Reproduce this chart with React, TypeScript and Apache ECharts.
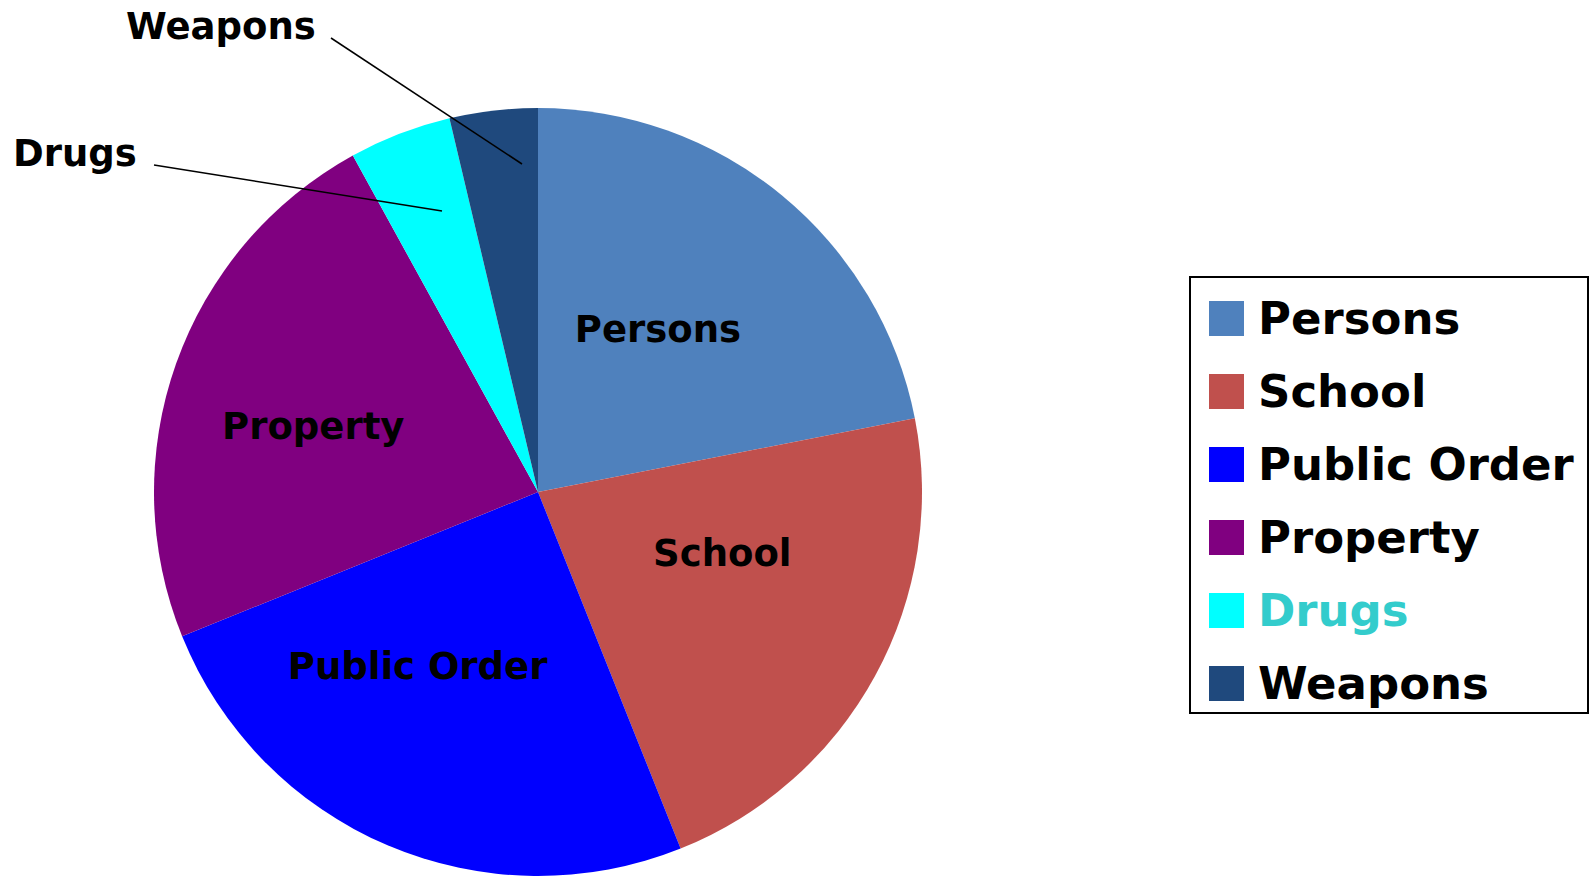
import React, { useEffect, useRef } from "react";
import * as echarts from "echarts";

const categories = ["Persons", "School", "Public Order", "Property", "Drugs", "Weapons"];
const values = [21.9, 22.0, 24.9, 23.1, 4.3, 3.7];
const colors = ["#4F81BD", "#C0504D", "#0000FF", "#800080", "#00FFFF", "#1F497D"];
const outsideLabels = ["Drugs", "Weapons"];

export default function App() {
  const ref = useRef<HTMLDivElement>(null);
  useEffect(() => {
    document.body.style.margin = "0";
    const chart = echarts.init(ref.current!, null, { renderer: "svg" });
    const font = "DejaVu Sans";
    const outsidePos: Record<string, any> = {
      Weapons: { x: 126, y: 26 },
      Drugs: { x: 13, y: 153 },
    };
    const insideShift: Record<string, [number, number]> = {
      Persons: [-4, -12],
      School: [13, -32],
      "Public Order": [-44, -5],
      Property: [-41, 0],
    };
    const leaderLines = [
      [[331, 38], [522, 164]],
      [[154, 165], [442, 211]],
    ];
    chart.setOption({
      animation: false,
      color: colors,
      legend: {
        orient: "vertical",
        left: 1209,
        top: 296,
        padding: 0,
        itemWidth: 35,
        itemHeight: 35,
        itemGap: 28,
        icon: "rect",
        textStyle: {
          fontFamily: font,
          fontWeight: "bold",
          fontSize: 45,
          lineHeight: 45,
          color: "#000",
          padding: [0, 0, 0, 9],
        },
        data: categories.map((c) =>
          c === "Drugs" ? { name: c, textStyle: { color: "#33CCCC" } } : { name: c }
        ),
      },
      graphic: [
        {
          type: "rect",
          shape: { x: 1190, y: 277, width: 398, height: 436 },
          style: { fill: "none", stroke: "#000", lineWidth: 2 },
        },
        ...leaderLines.map((l) => ({
          type: "line",
          z: 100,
          shape: { x1: l[0][0], y1: l[0][1], x2: l[1][0], y2: l[1][1] },
          style: { stroke: "#000", lineWidth: 1.5 },
        })),
      ],
      series: [
        {
          type: "pie",
          center: [538, 492],
          radius: 384,
          startAngle: 90,
          clockwise: true,
          avoidLabelOverlap: false,
          itemStyle: { borderWidth: 0 },
          label: {
            show: true,
            position: "inside",
            fontFamily: font,
            fontWeight: "bold",
            fontSize: 37,
            color: "#000",
            formatter: "{b}",
          },
          labelLine: { show: false },
          emphasis: { disabled: true },
          labelLayout: (params: any) => {
            const name = categories[params.dataIndex];
            const p = outsidePos[name];
            if (p) {
              return { x: p.x, y: p.y, align: "left", verticalAlign: "middle" };
            }
            const s = insideShift[name];
            return s ? { dx: s[0], dy: s[1] } : {};
          },
          data: categories.map((c, i) => {
            const d: any = { name: c, value: values[i] };
            if (outsideLabels.includes(c)) {
              d.label = { position: "outside" };
              d.labelLine = { show: false };
            }
            return d;
          }),
        },
      ],
    });
    return () => chart.dispose();
  }, []);
  return <div ref={ref} style={{ width: 1591, height: 879 }} />;
}
